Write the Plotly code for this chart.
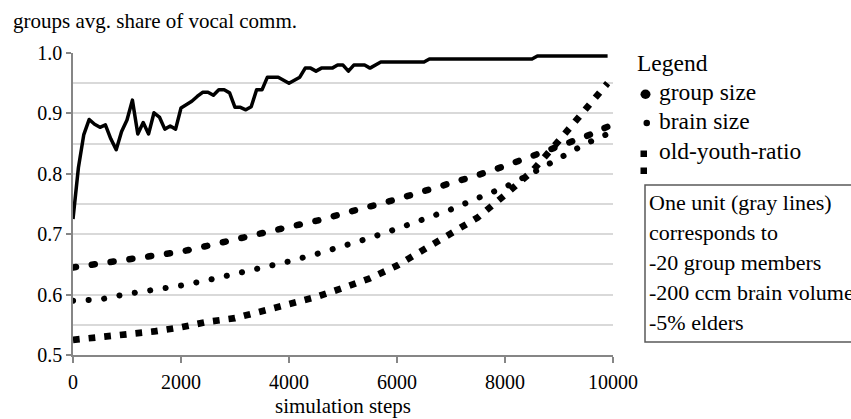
import plotly.graph_objects as go

# ---------------- data ----------------
steps_vocal = list(range(0, 10000, 100))
vocal_share = [
    0.725, 0.810, 0.865, 0.890, 0.882, 0.877, 0.881, 0.858, 0.840, 0.870,
    0.889, 0.922, 0.866, 0.885, 0.866, 0.901, 0.894, 0.874, 0.879, 0.874,
    0.909, 0.915, 0.920, 0.928, 0.935, 0.935, 0.930, 0.939, 0.939, 0.934,
    0.910, 0.910, 0.906, 0.911, 0.939, 0.939, 0.960, 0.960, 0.960, 0.955,
    0.950, 0.955, 0.960, 0.975, 0.975, 0.970, 0.975, 0.975, 0.975, 0.980,
    0.980, 0.970, 0.980, 0.980, 0.980, 0.975, 0.980, 0.985, 0.985, 0.985,
    0.985, 0.985, 0.985, 0.985, 0.985, 0.985, 0.990, 0.990, 0.990, 0.990,
    0.990, 0.990, 0.990, 0.990, 0.990, 0.990, 0.990, 0.990, 0.990, 0.990,
    0.990, 0.990, 0.990, 0.990, 0.990, 0.990, 0.995, 0.995, 0.995, 0.995,
    0.995, 0.995, 0.995, 0.995, 0.995, 0.995, 0.995, 0.995, 0.995, 0.995,
]

steps_param = [0, 500, 1000, 1500, 2000, 2500, 3000, 3500, 4000, 4500, 5000,
               5500, 6000, 6500, 7000, 7500, 8000, 8500, 9000, 9500, 9900]
group_size = [0.645, 0.651, 0.657, 0.665, 0.671, 0.681, 0.692, 0.702, 0.712, 0.722,
              0.733, 0.746, 0.758, 0.771, 0.784, 0.798, 0.813, 0.829, 0.845, 0.862, 0.878]
brain_size = [0.590, 0.592, 0.601, 0.607, 0.615, 0.624, 0.634, 0.645, 0.655, 0.667,
              0.680, 0.694, 0.709, 0.724, 0.741, 0.760, 0.778, 0.801, 0.825, 0.850, 0.866]
old_youth_ratio = [0.525, 0.529, 0.535, 0.539, 0.546, 0.555, 0.561, 0.572, 0.584, 0.596,
                   0.611, 0.627, 0.648, 0.674, 0.699, 0.728, 0.765, 0.804, 0.855, 0.908, 0.950]

x_ticks = [0, 2000, 4000, 6000, 8000, 10000]
x_tick_labels = ["0", "2000", "4000", "6000", "8000", "10000"]
y_ticks = [0.5, 0.6, 0.7, 0.8, 0.9, 1.0]
y_tick_labels = ["0.5", "0.6", "0.7", "0.8", "0.9", "1.0"]

title_text = "groups avg. share of vocal comm."
x_title = "simulation steps"
legend_title = "Legend"
legend_labels = ["group size", "brain size", "old-youth-ratio"]
note_lines = ["One unit (gray lines)", "corresponds to", "-20 group members",
              "-200 ccm brain volume", "-5% elders"]

# ---------------- layout helpers ----------------
W, H = 851, 419
ML, MR, MT, MB = 73, 238, 53, 64
PW = W - ML - MR
PH = H - MT - MB
FONT = "Liberation Serif"
GRID = "#d9d9d9"
AXIS = "#868686"


def px(x):
    return (x - ML) / PW


def py(y):
    return (H - MB - y) / PH


fig = go.Figure()
fig.add_trace(go.Scatter(x=steps_vocal, y=vocal_share, mode="lines",
                         line=dict(color="black", width=3.5), showlegend=False,
                         hoverinfo="skip"))
fig.add_trace(go.Scatter(x=steps_param, y=group_size, mode="lines",
                         line=dict(color="black", width=6.5, dash="3px,16px"),
                         showlegend=False, hoverinfo="skip"))
fig.add_trace(go.Scatter(x=steps_param, y=brain_size, mode="lines",
                         line=dict(color="black", width=6, dash="0.1px,15.5px"),
                         showlegend=False, hoverinfo="skip"))
fig.add_trace(go.Scatter(x=steps_param, y=old_youth_ratio, mode="lines",
                         line=dict(color="black", width=6.7, dash="6.7px,9px"),
                         showlegend=False, hoverinfo="skip"))

annotations = []


def add_text(text, x, y, size, xanchor="left"):
    annotations.append(dict(text=text, x=px(x), y=py(y), xref="paper", yref="paper",
                            xanchor=xanchor, yanchor="middle", showarrow=False,
                            font=dict(family=FONT, size=size, color="black")))


add_text(title_text, 11, 21, 21)
add_text(x_title, 343, 406, 21, xanchor="center")
add_text(legend_title, 635, 63, 23.5)
legend_y = [92, 121, 151]
for lab, yy in zip(legend_labels, legend_y):
    add_text(lab, 657, yy, 23.5)
note_y = [202, 232, 262, 292, 322]
for t, yy in zip(note_lines, note_y):
    add_text(t, 647, yy, 22)

shapes = [
    # note box
    dict(type="rect", xref="paper", yref="paper", x0=px(645), x1=px(900),
         y0=py(342), y1=py(185), line=dict(color="#595959", width=1.5),
         fillcolor="white"),
    # legend markers
    dict(type="circle", xref="paper", yref="paper", x0=px(640.5), x1=px(650.5),
         y0=py(99), y1=py(89.5), fillcolor="black", line=dict(width=0)),
    dict(type="circle", xref="paper", yref="paper", x0=px(643.5), x1=px(650),
         y0=py(126.3), y1=py(119.8), fillcolor="black", line=dict(width=0)),
    dict(type="rect", xref="paper", yref="paper", x0=px(640.5), x1=px(647),
         y0=py(157), y1=py(150.5), fillcolor="black", line=dict(width=0)),
    dict(type="rect", xref="paper", yref="paper", x0=px(640.5), x1=px(647),
         y0=py(174), y1=py(167.5), fillcolor="black", line=dict(width=0)),
]

fig.update_layout(
    width=W, height=H,
    margin=dict(l=ML, r=MR, t=MT, b=MB, pad=0),
    paper_bgcolor="white", plot_bgcolor="white",
    font=dict(family=FONT, color="black"),
    showlegend=False,
    annotations=annotations,
    shapes=shapes,
    xaxis=dict(range=[0, 10000], tickvals=x_ticks, ticktext=x_tick_labels,
               showgrid=False, zeroline=False, showline=True, linecolor=AXIS,
               linewidth=1.5, ticks="outside", ticklen=6, tickcolor=AXIS,
               tickwidth=1.5, tickfont=dict(family=FONT, size=20, color="black"),
               ticklabelstandoff=2),
    yaxis=dict(range=[0.5, 1.0], tickvals=y_ticks, ticktext=y_tick_labels,
               showgrid=True, gridcolor=GRID, gridwidth=1.5, zeroline=False,
               showline=True, linecolor=AXIS, linewidth=1.5, ticks="outside",
               ticklen=5, tickcolor=AXIS, tickwidth=1.5,
               tickfont=dict(family=FONT, size=20, color="black"),
               minor=dict(dtick=0.05, tick0=0.5, showgrid=True, gridcolor=GRID,
                          gridwidth=1.5, ticks="")),
)

post = """
document.body.style.margin = '0';
document.body.style.overflow = 'hidden';
var gd = document.getElementById('{plot_id}');
function styleLines(){
  var traces = gd.querySelectorAll('.scatterlayer .trace');
  traces.forEach(function(t, i){
    var p = t.querySelector('.js-line');
    if(!p) return;
    p.style.strokeLinejoin = 'round';
    if(i === 1 || i === 2){ p.style.strokeLinecap = 'round'; }
  });
}
styleLines();
"""

fig.write_html("out.html", post_script=post, config={"displayModeBar": False})
